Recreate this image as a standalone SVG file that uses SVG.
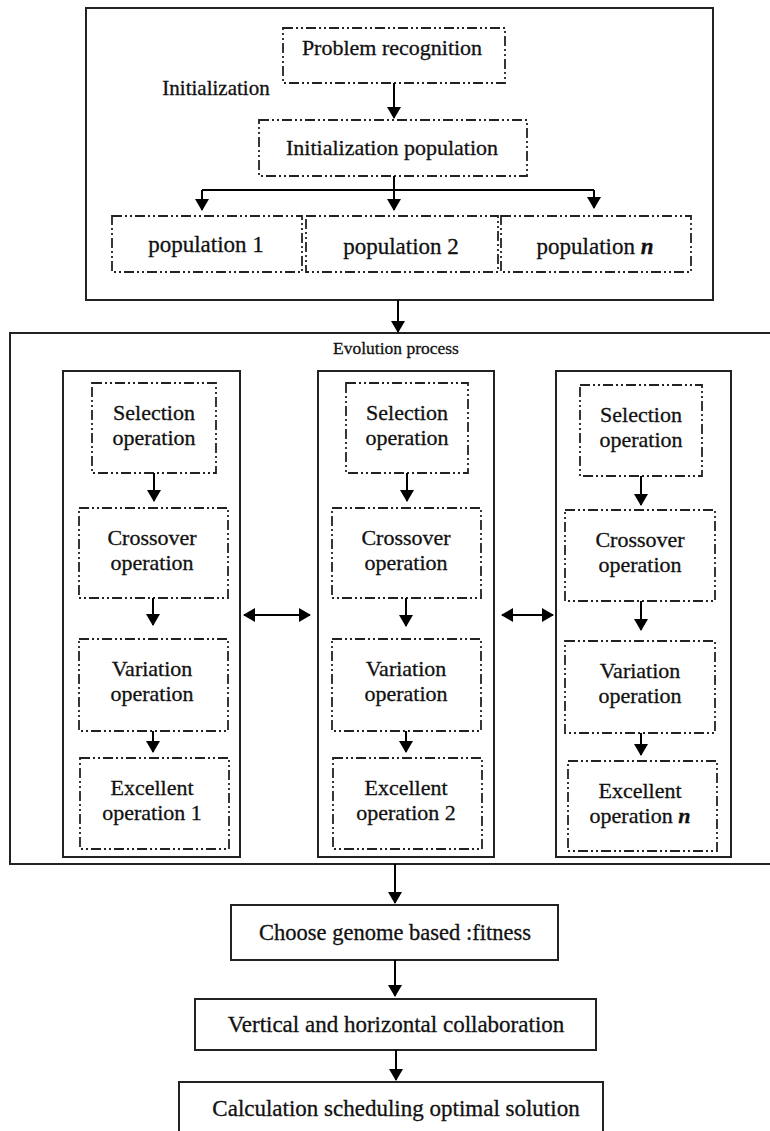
<svg xmlns="http://www.w3.org/2000/svg" width="770" height="1131" viewBox="0 0 770 1131">
<defs>
<marker id="ah" viewBox="0 0 12 14" refX="11" refY="7" markerWidth="12" markerHeight="14" markerUnits="userSpaceOnUse" orient="auto-start-reverse">
<path d="M0,0 L12,7 L0,14 Z" fill="#000"/>
</marker>
<style>
.t{font-family:"Liberation Serif","Times New Roman",serif;font-size:22px;fill:#111;stroke:#111;stroke-width:0.3;text-anchor:middle}
.solid{fill:#fff;stroke:#222;stroke-width:2}
.dash{fill:#fff;stroke:#222;stroke-width:1.8;stroke-dasharray:10 3 2 3 2 3}
.c{fill:none;stroke:#000;stroke-width:2}
.ca{fill:none;stroke:#000;stroke-width:2;marker-end:url(#ah)}
.cb{fill:none;stroke:#000;stroke-width:2;marker-end:url(#ah);marker-start:url(#ah)}
</style>
</defs>
<rect width="770" height="1131" fill="#fff"/>

<g id="init-section">
<rect class="solid" x="86" y="8" width="627" height="292"/>
<text class="t" x="216" y="95" style="font-size:21px">Initialization</text>
</g>
<g id="problem-recognition">
<rect class="dash" x="283" y="28" width="222" height="55"/>
<text class="t" x="392" y="55">Problem recognition</text>
</g>
<g id="init-population">
<rect class="dash" x="259" y="120" width="268" height="56"/>
<text class="t" x="392" y="155">Initialization population</text>
</g>
<g id="pop1">
<rect class="dash" x="112" y="216" width="190" height="56"/>
<text class="t" x="206" y="252" style="font-size:23px">population 1</text>
</g>
<g id="pop2">
<rect class="dash" x="306" y="216" width="192" height="56"/>
<text class="t" x="401" y="254" style="font-size:23px">population 2</text>
</g>
<g id="popn">
<rect class="dash" x="501" y="216" width="190" height="56"/>
<text class="t" x="595" y="254" style="font-size:23px">population <tspan font-style="italic" font-weight="bold">n</tspan></text>
</g>

<g id="evolution">
<rect class="solid" x="10" y="333" width="765" height="531"/>
<text class="t" x="396" y="354" style="font-size:17.5px">Evolution process</text>
</g>

<g id="col1">
<rect class="solid" x="63" y="371" width="177" height="486"/>
</g>
<g id="col2">
<rect class="solid" x="318" y="371" width="176" height="486"/>
</g>
<g id="col3">
<rect class="solid" x="556" y="371" width="175" height="486"/>
</g>

<g id="sel1"><rect class="dash" x="92" y="383" width="124" height="90"/><text class="t" x="154" y="420">Selection</text><text class="t" x="154" y="445">operation</text></g>
<g id="cross1"><rect class="dash" x="79" y="508" width="149" height="90"/><text class="t" x="152" y="545">Crossover</text><text class="t" x="152" y="570">operation</text></g>
<g id="var1"><rect class="dash" x="79" y="639" width="149" height="92"/><text class="t" x="152" y="676">Variation</text><text class="t" x="152" y="701">operation</text></g>
<g id="exc1"><rect class="dash" x="80" y="758" width="149" height="91"/><text class="t" x="152" y="795">Excellent</text><text class="t" x="152" y="820">operation 1</text></g>

<g id="sel2"><rect class="dash" x="346" y="383" width="122" height="90"/><text class="t" x="407" y="420">Selection</text><text class="t" x="407" y="445">operation</text></g>
<g id="cross2"><rect class="dash" x="332" y="508" width="149" height="90"/><text class="t" x="406" y="545">Crossover</text><text class="t" x="406" y="570">operation</text></g>
<g id="var2"><rect class="dash" x="332" y="639" width="149" height="92"/><text class="t" x="406" y="676">Variation</text><text class="t" x="406" y="701">operation</text></g>
<g id="exc2"><rect class="dash" x="333" y="758" width="149" height="91"/><text class="t" x="406" y="795">Excellent</text><text class="t" x="406" y="820">operation 2</text></g>

<g id="sel3"><rect class="dash" x="580" y="385" width="122" height="91"/><text class="t" x="641" y="422">Selection</text><text class="t" x="641" y="447">operation</text></g>
<g id="cross3"><rect class="dash" x="565" y="510" width="150" height="91"/><text class="t" x="640" y="547">Crossover</text><text class="t" x="640" y="572">operation</text></g>
<g id="var3"><rect class="dash" x="565" y="641" width="150" height="92"/><text class="t" x="640" y="678">Variation</text><text class="t" x="640" y="703">operation</text></g>
<g id="exc3"><rect class="dash" x="568" y="761" width="149" height="90"/><text class="t" x="640" y="798">Excellent</text><text class="t" x="640" y="823">operation <tspan font-style="italic" font-weight="bold">n</tspan></text></g>

<g id="choose">
<rect class="solid" x="231" y="905" width="327" height="55"/>
<text class="t" x="395" y="940" style="font-size:22.5px">Choose genome based :fitness</text>
</g>
<g id="collab">
<rect class="solid" x="195" y="999" width="401" height="51"/>
<text class="t" x="396" y="1032" style="font-size:23px">Vertical and horizontal collaboration</text>
</g>
<g id="solution">
<rect class="solid" x="179" y="1082" width="424" height="60"/>
<text class="t" x="396" y="1116" style="font-size:23px">Calculation scheduling optimal solution</text>
</g>

<g id="connectors">
<path class="ca" d="M394,83 V118"/>
<path class="c" d="M394,176 V190 M202,190 H594"/>
<path class="ca" d="M202,190 V210"/>
<path class="ca" d="M394,190 V210"/>
<path class="ca" d="M594,190 V208"/>
<path class="ca" d="M398,300 V332"/>
<path class="ca" d="M154,473 V501"/>
<path class="ca" d="M153,598 V625"/>
<path class="ca" d="M153,731 V752"/>
<path class="ca" d="M407,473 V501"/>
<path class="ca" d="M406,598 V626"/>
<path class="ca" d="M406,731 V752"/>
<path class="ca" d="M641,476 V505"/>
<path class="ca" d="M641,601 V630"/>
<path class="ca" d="M641,733 V755"/>
<path class="cb" d="M244,615 H310"/>
<path class="cb" d="M502,615 H553"/>
<path class="ca" d="M395,864 V903"/>
<path class="ca" d="M395,960 V996"/>
<path class="ca" d="M396,1050 V1080"/>
</g>
</svg>
